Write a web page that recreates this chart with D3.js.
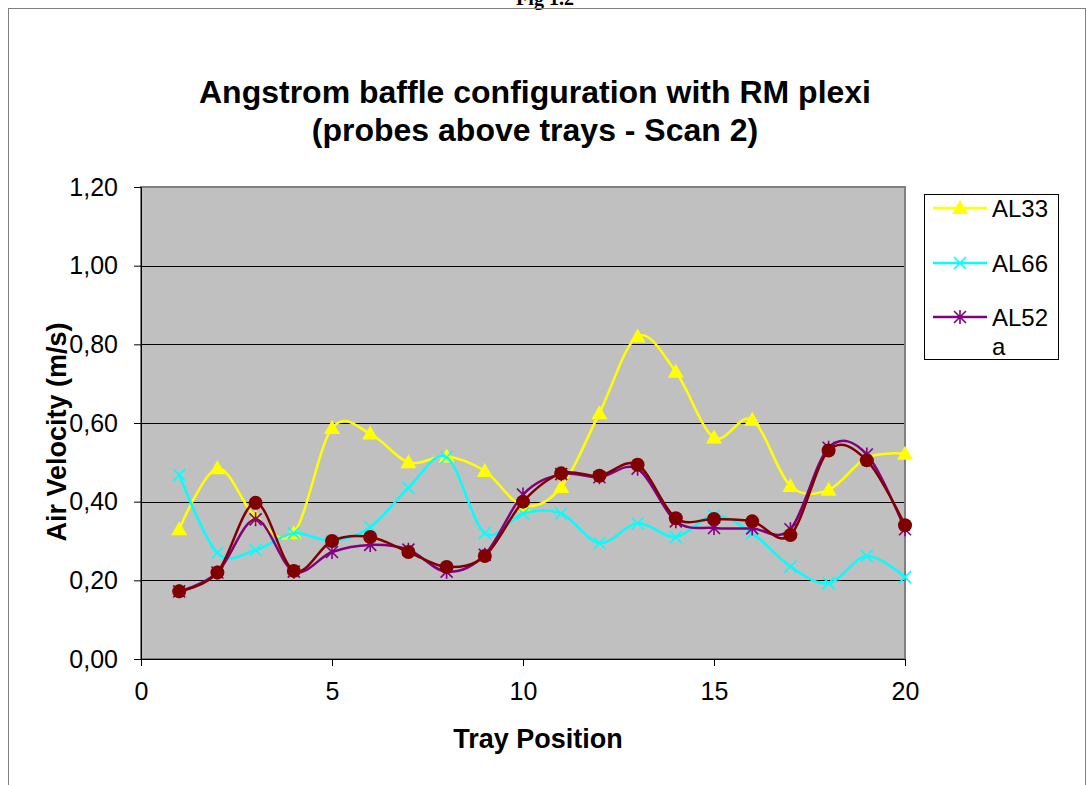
<!DOCTYPE html>
<html>
<head>
<meta charset="utf-8">
<script src="https://cdn.jsdelivr.net/npm/d3@7"></script>
<style>
  body { margin: 0; background: #fff; }
  svg { display: block; font-family: "Liberation Sans", Arial, sans-serif; }
</style>
</head>
<body>
<div id="chart"></div>
<script>
// Tray positions and measured air velocities (m/s)
const trays = d3.range(1, 21);
const al33 = [0.33, 0.485, 0.36, 0.32, 0.587, 0.573, 0.50, 0.515, 0.478, 0.39,
              0.437, 0.625, 0.82, 0.73, 0.563, 0.608, 0.44, 0.43, 0.512, 0.522];
const al66 = [0.468, 0.27, 0.277, 0.32, 0.30, 0.335, 0.435, 0.513, 0.32, 0.37,
              0.37, 0.295, 0.345, 0.31, 0.365, 0.32, 0.235, 0.193, 0.262, 0.208];
const al52a = [0.172, 0.22, 0.355, 0.222, 0.272, 0.29, 0.278, 0.222, 0.265, 0.418,
               0.47, 0.462, 0.484, 0.35, 0.333, 0.332, 0.33, 0.537, 0.52, 0.33];
const al52b = [0.172, 0.22, 0.397, 0.224, 0.30, 0.31, 0.272, 0.234, 0.262, 0.40,
               0.472, 0.466, 0.494, 0.358, 0.356, 0.35, 0.315, 0.53, 0.505, 0.34];
const yTicks = [0, 0.2, 0.4, 0.6, 0.8, 1.0, 1.2];
const xTicks = [0, 5, 10, 15, 20];

const series = [
  { name: "AL33", values: al33, color: "#FFFF00", marker: "triangle", legend: true },
  { name: "AL66", values: al66, color: "#00FFFF", marker: "cross", legend: true },
  { name: "AL52a", values: al52a, color: "#800080", marker: "star", legend: true },
  { name: "AL52b", values: al52b, color: "#800000", marker: "circle", legend: false }
];

const W = 1087, H = 785;
const plot = { left: 141, right: 905, top: 187, bottom: 659 };

const svg = d3.select("#chart").append("svg")
    .attr("width", W)
    .attr("height", H);

// outer frame and the caption above it (cut by the page top, as in the source)
svg.append("text")
    .attr("x", 545).attr("y", 5)
    .attr("text-anchor", "middle")
    .style("font-family", "'Liberation Serif', 'Times New Roman', serif")
    .style("font-weight", "bold")
    .style("font-size", "20px")
    .text("Fig 1.2");
svg.append("rect")
    .attr("x", 8.5).attr("y", 8.5)
    .attr("width", 1077).attr("height", 800)
    .attr("fill", "none")
    .attr("stroke", "#808080")
    .attr("stroke-width", 1);

const x = d3.scaleLinear().domain([0, 20]).range([plot.left, plot.right]);
const y = d3.scaleLinear().domain([0, 1.2]).range([plot.bottom, plot.top]);

// plot background
svg.append("rect")
    .attr("x", plot.left).attr("y", plot.top)
    .attr("width", plot.right - plot.left)
    .attr("height", plot.bottom - plot.top)
    .attr("fill", "#C0C0C0");

// gridlines
svg.append("g")
    .selectAll("line")
    .data(yTicks.slice(1, -1))
    .enter()
    .append("line")
    .attr("x1", plot.left).attr("x2", plot.right)
    .attr("y1", d => Math.round(y(d)) + 0.5)
    .attr("y2", d => Math.round(y(d)) + 0.5)
    .attr("stroke", "#000")
    .attr("stroke-width", 1.2);

// plot border
svg.append("rect")
    .attr("x", plot.left).attr("y", plot.top)
    .attr("width", plot.right - plot.left)
    .attr("height", plot.bottom - plot.top)
    .attr("fill", "none")
    .attr("stroke", "#808080")
    .attr("stroke-width", 2);

const fmt = d => d.toFixed(2).replace(".", ",");

const yAxis = d3.axisLeft(y).tickValues(yTicks).tickFormat(fmt).tickSize(7).tickPadding(16);
const gy = svg.append("g").attr("transform", `translate(${plot.left},0)`).call(yAxis);
gy.select(".domain").attr("stroke", "#000");
gy.selectAll(".tick text").style("font-size", "25px").attr("fill", "#000");

const xAxis = d3.axisBottom(x).tickValues(xTicks).tickFormat(d3.format("d")).tickSize(7).tickPadding(16);
const gx = svg.append("g").attr("transform", `translate(0,${plot.bottom})`).call(xAxis);
gx.select(".domain").attr("stroke", "#000");
gx.selectAll(".tick text").style("font-size", "25px").attr("fill", "#000");

// titles
const title = svg.append("text")
    .attr("x", 535).attr("text-anchor", "middle")
    .style("font-weight", "bold").style("font-size", "32px");
title.append("tspan").attr("x", 535).attr("y", 103).text("Angstrom baffle configuration with RM plexi");
title.append("tspan").attr("x", 535).attr("y", 141).text("(probes above trays - Scan 2)");

svg.append("text")
    .attr("x", 538).attr("y", 748)
    .attr("text-anchor", "middle")
    .style("font-weight", "bold").style("font-size", "27px")
    .text("Tray Position");

svg.append("text")
    .attr("transform", "translate(66,432) rotate(-90)")
    .attr("text-anchor", "middle")
    .style("font-weight", "bold").style("font-size", "27px")
    .text("Air Velocity (m/s)");

// markers
function drawMarker(g, type, color, cx, cy) {
  if (type === "triangle") {
    g.append("path")
        .attr("d", `M${cx},${cy - 8}L${cx + 8},${cy + 6}L${cx - 8},${cy + 6}Z`)
        .attr("fill", color);
  } else if (type === "cross") {
    g.append("path")
        .attr("d", `M${cx - 6},${cy - 6}L${cx + 6},${cy + 6}M${cx - 6},${cy + 6}L${cx + 6},${cy - 6}`)
        .attr("stroke", color).attr("stroke-width", 1.6);
  } else if (type === "star") {
    g.append("path")
        .attr("d", `M${cx - 6},${cy - 6}L${cx + 6},${cy + 6}M${cx - 6},${cy + 6}L${cx + 6},${cy - 6}M${cx},${cy - 7}L${cx},${cy + 7}`)
        .attr("stroke", color).attr("stroke-width", 1.6);
  } else {
    g.append("circle")
        .attr("cx", cx).attr("cy", cy).attr("r", 7)
        .attr("fill", color);
  }
}

const line = d3.line()
    .x((d, i) => x(trays[i]))
    .y(d => y(d))
    .curve(d3.curveCardinal.tension(0));

series.forEach(s => {
  const g = svg.append("g");
  g.append("path")
      .attr("d", line(s.values))
      .attr("fill", "none")
      .attr("stroke", s.color)
      .attr("stroke-width", 2.5);
  s.values.forEach((v, i) => drawMarker(g, s.marker, s.color, x(trays[i]), y(v)));
});

// legend
const legend = svg.append("g");
legend.append("rect")
    .attr("x", 924.5).attr("y", 194.5)
    .attr("width", 134).attr("height", 165)
    .attr("fill", "#fff")
    .attr("stroke", "#000");

const legendRows = [208, 263, 317];
series.filter(s => s.legend).forEach((s, i) => {
  const ly = legendRows[i];
  legend.append("line")
      .attr("x1", 933).attr("x2", 987)
      .attr("y1", ly).attr("y2", ly)
      .attr("stroke", s.color).attr("stroke-width", 2.5);
  drawMarker(legend, s.marker, s.color, 960, ly);
  const t = legend.append("text")
      .attr("x", 992).attr("y", ly + 9)
      .style("font-size", "24px");
  if (s.name === "AL52a") {
    t.append("tspan").attr("x", 992).attr("y", ly + 9).text("AL52");
    t.append("tspan").attr("x", 992).attr("y", 355).text("a");
  } else {
    t.text(s.name);
  }
});
</script>
</body>
</html>
